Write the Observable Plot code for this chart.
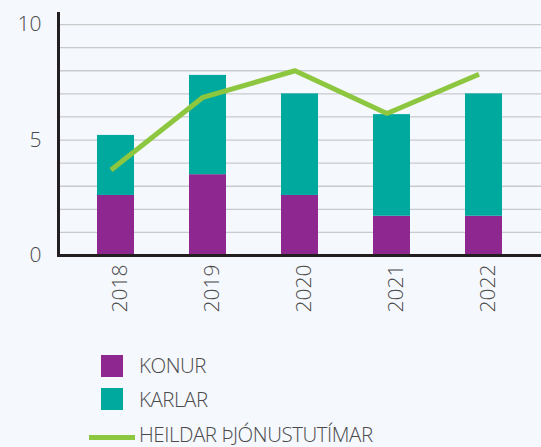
<!DOCTYPE html>
<html><head><meta charset="utf-8">
<script src="https://cdn.jsdelivr.net/npm/d3@7"></script>
<script src="https://cdn.jsdelivr.net/npm/@observablehq/plot@0.6"></script>
<style>
html,body{margin:0;padding:0;background:#f5f8fd;}
#wrap{position:relative;width:541px;height:447px;overflow:hidden;background:#f5f8fd;font-family:"Open Sans",sans-serif;font-weight:300;color:#4a4a4a;}
#wrap svg text{font-weight:300;}
.sw{position:absolute;width:22px;height:22px;}
.ln{position:absolute;width:46px;height:5px;}
.lt{position:absolute;font-size:20.5px;letter-spacing:-0.45px;line-height:16px;height:16px;white-space:nowrap;}
</style></head>
<body><div id="wrap"><div id="chart"></div></div>
<script>
const years = ["2018","2019","2020","2021","2022"];
const konur = [2.6, 3.5, 2.6, 1.7, 1.7];
const karlar = [2.6, 4.3, 4.4, 4.4, 5.3];
const heildar = [3.7, 6.85, 8.0, 6.15, 7.85];
const groups = ["KONUR", "KARLAR"];
const groupColors = ["#8e278f", "#00a99d"];
const lineLabel = "HEILDAR ÞJÓNUSTUTÍMAR";
const lineColor = "#8dc63f";
const yTicks = [0, 5, 10];
const gridVals = [1,2,3,4,5,6,7,8,9,10];

const rows = [];
years.forEach((y, i) => {
  rows.push({year: y, group: groups[0], value: konur[i]});
  rows.push({year: y, group: groups[1], value: karlar[i]});
});
const lineRows = years.map((y, i) => ({year: y, value: heildar[i]}));

const font = '"Open Sans",sans-serif';
const plot = Plot.plot({
  width: 541, height: 330,
  marginLeft: 58, marginRight: 0, marginTop: 13, marginBottom: 75,
  style: {background: "transparent", fontFamily: font, fontSize: "21px", color: "#4a4a4a"},
  x: {domain: years, paddingInner: 0.6, paddingOuter: 0.41, label: null},
  y: {domain: [0, 10.48], label: null},
  color: {domain: groups, range: groupColors},
  marks: [
    Plot.ruleY(gridVals, {stroke: "#c9cacc", strokeWidth: 1.3}),
    Plot.barY(rows, {x: "year", y: "value", fill: "group"}),
    Plot.line(lineRows, {x: "year", y: "value", stroke: lineColor, strokeWidth: 5, dx: -5, strokeLinejoin: "miter", strokeLinecap: "butt"}),
    Plot.axisY({ticks: yTicks, tickSize: 0, tickPadding: 17, fontSize: 21, label: null}),
    Plot.axisX({tickSize: 0, tickPadding: 9, tickRotate: -90, fontSize: 21, label: null, dx: 4}),
    Plot.ruleY([0], {stroke: "#231f20", strokeWidth: 3}),
    Plot.frame({anchor: "left", stroke: "#231f20", strokeWidth: 3})
  ]
});
document.getElementById("chart").appendChild(plot);

const wrap = document.getElementById("wrap");
const swTops = [355, 388];
const textTops = [357, 391];
groups.forEach((g, i) => {
  const s = document.createElement("div");
  s.className = "sw"; s.style.left = "101px"; s.style.top = swTops[i] + "px"; s.style.background = groupColors[i];
  wrap.appendChild(s);
  const t = document.createElement("div");
  t.className = "lt"; t.style.left = "139px"; t.style.top = textTops[i] + "px"; t.textContent = g;
  wrap.appendChild(t);
});
const l = document.createElement("div");
l.className = "ln"; l.style.left = "89px"; l.style.top = "435px"; l.style.background = lineColor;
wrap.appendChild(l);
const lt = document.createElement("div");
lt.className = "lt"; lt.style.left = "139px"; lt.style.top = "426px"; lt.textContent = lineLabel;
wrap.appendChild(lt);
</script>
</body></html>
